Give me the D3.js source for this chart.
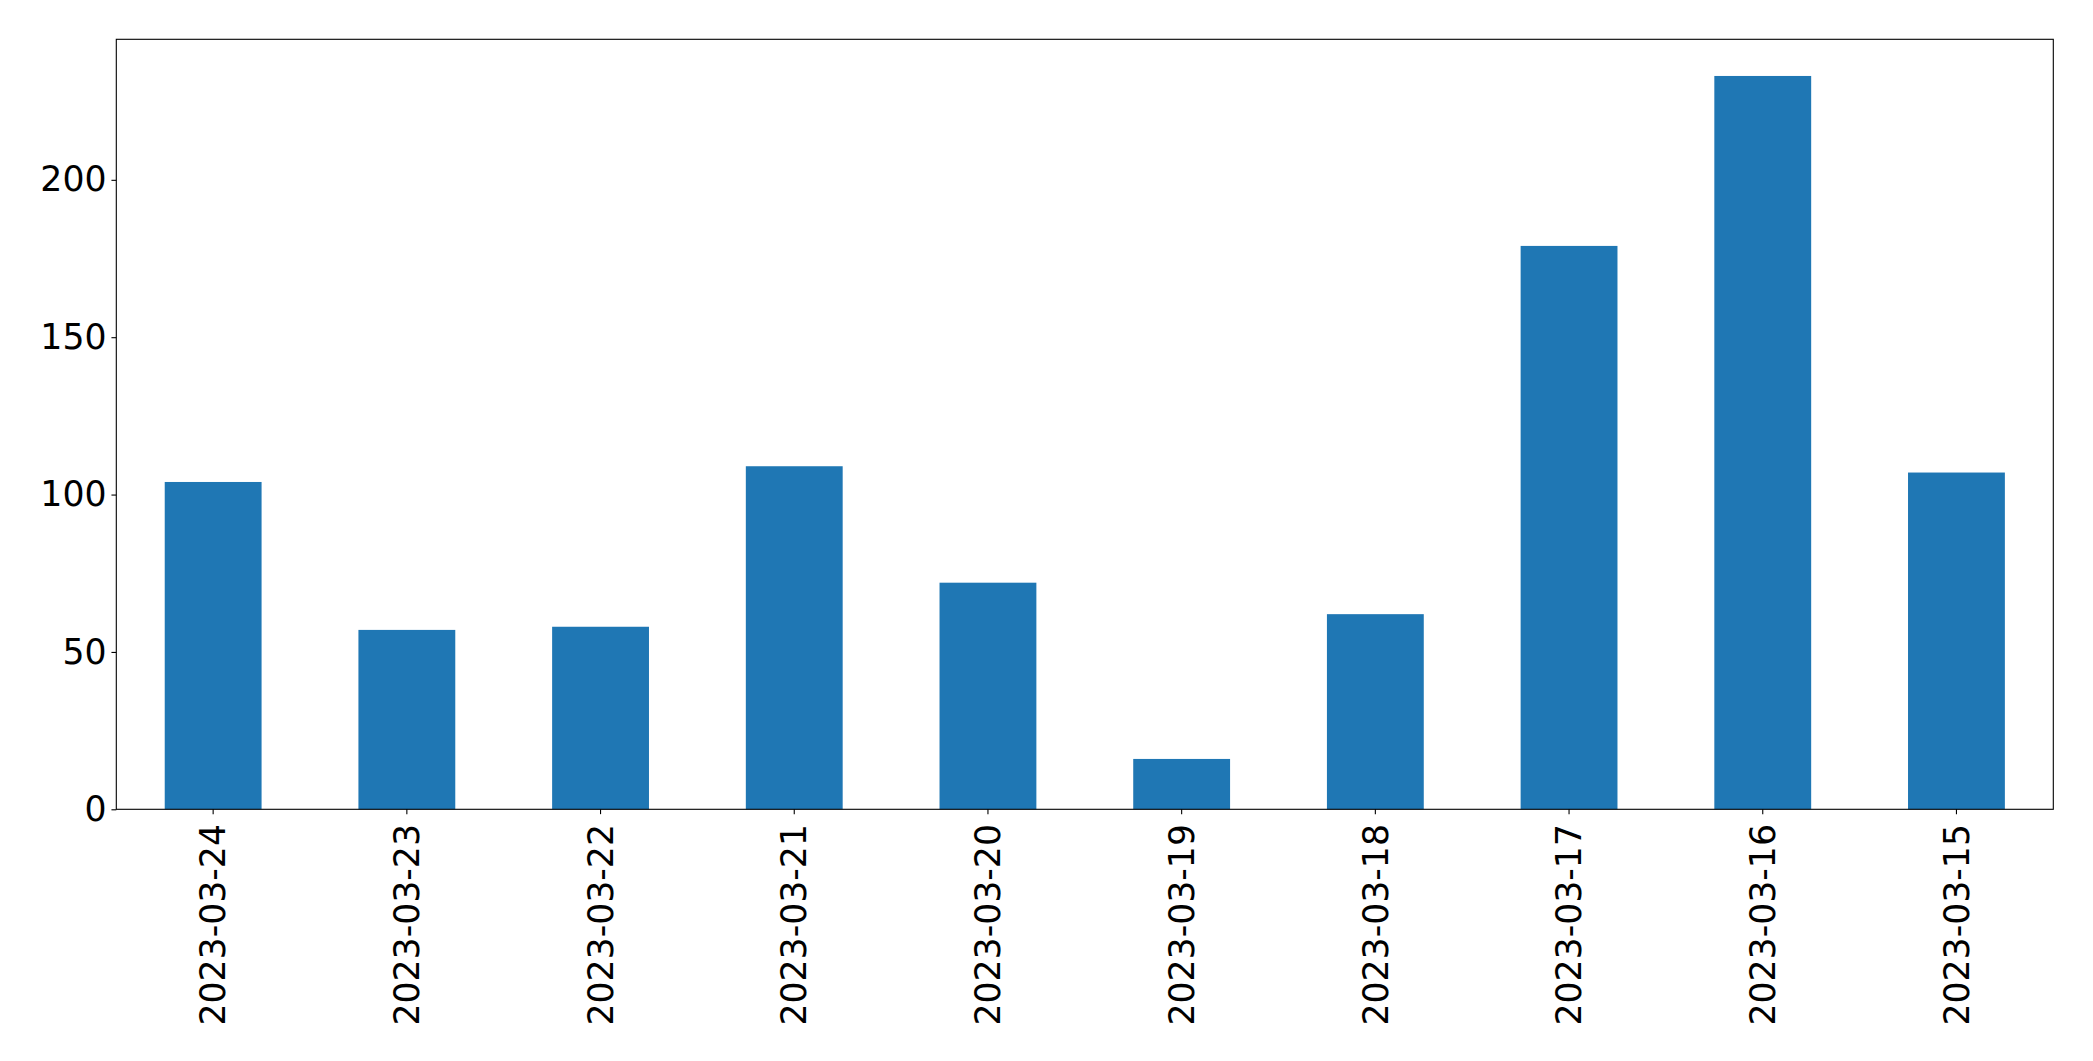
<!DOCTYPE html>
<html>
<head>
<meta charset="utf-8">
<script src="https://cdn.jsdelivr.net/npm/d3@7"></script>
<style>
  html, body { margin: 0; padding: 0; background: #fff; }
  svg { display: block; }
  text { font-family: "DejaVu Sans", sans-serif; }
</style>
</head>
<body>
<svg id="chart" width="2093" height="1061"></svg>
<script>
const categories = ["2023-03-24", "2023-03-23", "2023-03-22", "2023-03-21", "2023-03-20",
                    "2023-03-19", "2023-03-18", "2023-03-17", "2023-03-16", "2023-03-15"];
const values = [104, 57, 58, 109, 72, 16, 62, 179, 233, 107];
const yTicks = [0, 50, 100, 150, 200];

const W = 2093, H = 1061;
const margin = { left: 116.3, right: W - 2053.3, top: 39.3, bottom: H - 809.3 };
const fontSize = 34.7;
const tickLen = 4.86, tickPad = 4.86;

const svg = d3.select("#chart");
const x = d3.scaleBand().domain(categories)
  .range([margin.left, W - margin.right]).paddingInner(0.5).paddingOuter(0.25);
const y = d3.scaleLinear().domain([0, d3.max(values) * 1.05])
  .range([H - margin.bottom, margin.top]);

// bars
svg.append("g").selectAll("rect").data(values).join("rect")
  .attr("x", (d, i) => x(categories[i]))
  .attr("width", x.bandwidth())
  .attr("y", d => y(d))
  .attr("height", d => y(0) - y(d))
  .attr("fill", "#1f77b4");

// y axis
const yAxis = svg.append("g")
  .attr("transform", `translate(${margin.left},0)`)
  .call(d3.axisLeft(y).tickValues(yTicks).tickSize(tickLen).tickPadding(tickPad).tickFormat(d3.format("d")));
yAxis.select(".domain").remove();
yAxis.selectAll("line").attr("stroke", "#000").attr("stroke-width", 1.1);
yAxis.selectAll("text").attr("font-size", fontSize).attr("fill", "#000")
  .attr("font-family", "DejaVu Sans");

// x axis
const xAxis = svg.append("g")
  .attr("transform", `translate(0,${H - margin.bottom})`)
  .call(d3.axisBottom(x).tickSize(tickLen).tickPadding(tickPad));
xAxis.select(".domain").remove();
xAxis.selectAll("line").attr("stroke", "#000").attr("stroke-width", 1.1);
xAxis.selectAll("text")
  .attr("font-size", fontSize).attr("fill", "#000").attr("font-family", "DejaVu Sans")
  .attr("text-anchor", "end")
  .attr("transform", `rotate(-90)`)
  .attr("x", -(tickLen + tickPad + 5))
  .attr("y", 0)
  .attr("dy", "0.35em");

// frame
svg.append("rect")
  .attr("x", margin.left).attr("y", margin.top)
  .attr("width", W - margin.left - margin.right)
  .attr("height", H - margin.top - margin.bottom)
  .attr("fill", "none").attr("stroke", "#000").attr("stroke-width", 1.1);
</script>
</body>
</html>
